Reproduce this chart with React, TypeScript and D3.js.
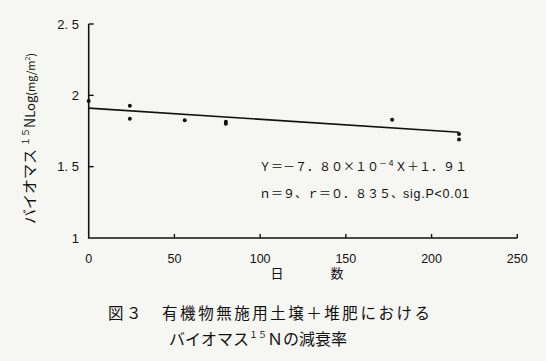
import React from "react";
import * as d3 from "d3";

const days = [0, 24, 24, 56, 80, 80, 177, 216, 216];
const logN = [1.96, 1.927, 1.836, 1.825, 1.815, 1.8, 1.829, 1.729, 1.69];
const xTicks = [0, 50, 100, 150, 200, 250];
const yTicks = [1, 1.5, 2, 2.5];
const yTickLabels = ["1", "1. 5", "2", "2. 5"];
const slope = -7.8e-4;
const intercept = 1.91;
const lineRange = [0, 216];

const W = 546;
const H = 361;
const JP = "'Noto Sans CJK JP', 'Noto Sans', sans-serif";
const LAT = "'Liberation Sans', Arial, sans-serif";

export default function App() {
  const x = d3.scaleLinear().domain([0, 250]).range([88.7, 517.3]);
  const y = d3.scaleLinear().domain([1, 2.5]).range([238, 24]);
  const line = d3
    .line<number>()
    .x((d) => x(d))
    .y((d) => y(intercept + slope * d));
  const ink = "#111";
  return (
    <svg width={W} height={H} style={{ position: "absolute", left: 0, top: 0, background: "#f6f6f3" }}>
      <rect width={W} height={H} fill="#f6f6f3" />
      {/* axes */}
      <path d={`M${x(0)},${y(2.5)}V${y(1)}H${x(250)}`} fill="none" stroke={ink} strokeWidth={1.6} />
      {yTicks.slice(1).map((t) => (
        <line key={t} x1={x(0)} x2={x(0) + 5} y1={y(t)} y2={y(t)} stroke={ink} strokeWidth={1.4} />
      ))}
      {xTicks.slice(1).map((t) => (
        <line key={t} x1={x(t)} x2={x(t)} y1={y(1)} y2={y(1) - 4} stroke={ink} strokeWidth={1.4} />
      ))}
      {yTicks.map((t, i) => (
        <text key={t} x={79} y={y(t)} dy="0.35em" textAnchor="end" fontFamily={LAT} fontSize={13} fill={ink}>
          {yTickLabels[i]}
        </text>
      ))}
      {xTicks.map((t) => (
        <text key={t} x={x(t)} y={263} textAnchor="middle" fontFamily={LAT} fontSize={12.5} fill={ink}>
          {t}
        </text>
      ))}
      {/* regression line */}
      <path d={line(lineRange) || ""} fill="none" stroke={ink} strokeWidth={1.6} />
      {/* points */}
      {days.map((d, i) => (
        <circle key={i} cx={x(d)} cy={y(logN[i])} r={2} fill={ink} />
      ))}
      {/* axis titles */}
      <text x={277} y={278} textAnchor="middle" fontFamily={JP} fontSize={13} fill={ink}>日</text>
      <text x={337} y={278} textAnchor="middle" fontFamily={JP} fontSize={13} fill={ink}>数</text>
      <g transform="translate(35,224) rotate(-90)">
        <text x={0} y={0} fontFamily={JP} fontSize={15} fill={ink}>
          <tspan>バイオマス</tspan>
          <tspan dx={3} dy={-6} fontSize={9}>１５</tspan>
          <tspan dy={6} fontSize={14}>N</tspan>
          <tspan fontSize={13}>Log</tspan>
          <tspan fontSize={11}>(mg/m</tspan>
          <tspan dy={-5} fontSize={7}>2</tspan>
          <tspan dy={5} fontSize={11}>)</tspan>
        </text>
      </g>
      {/* equation */}
      <text x={259} y={171} fontFamily={JP} fontSize={12} fill={ink}>
        <tspan>Ｙ＝－７．８０×１０</tspan>
        <tspan dy={-5} fontSize={8}>－４</tspan>
        <tspan dy={5}>Ｘ＋１．９１</tspan>
      </text>
      <text x={259} y={198} fontFamily={JP} fontSize={12} fill={ink}>
        <tspan>ｎ＝９、ｒ＝０．８３５、</tspan>
        <tspan fontFamily={LAT} fontSize={12.5} textLength={66} lengthAdjust="spacing">sig.P&lt;0.01</tspan>
      </text>
      {/* caption */}
      <text x={108} y={319} fontFamily={JP} fontSize={15.5} fill={ink} textLength={322} lengthAdjust="spacing">
        図３　有機物無施用土壌＋堆肥における
      </text>
      <text x={169} y={345} fontFamily={JP} fontSize={16} fill={ink}>
        <tspan>バイオマス</tspan>
        <tspan dy={-7} fontSize={9}>１５</tspan>
        <tspan dy={7}>Ｎの減衰率</tspan>
      </text>
    </svg>
  );
}
